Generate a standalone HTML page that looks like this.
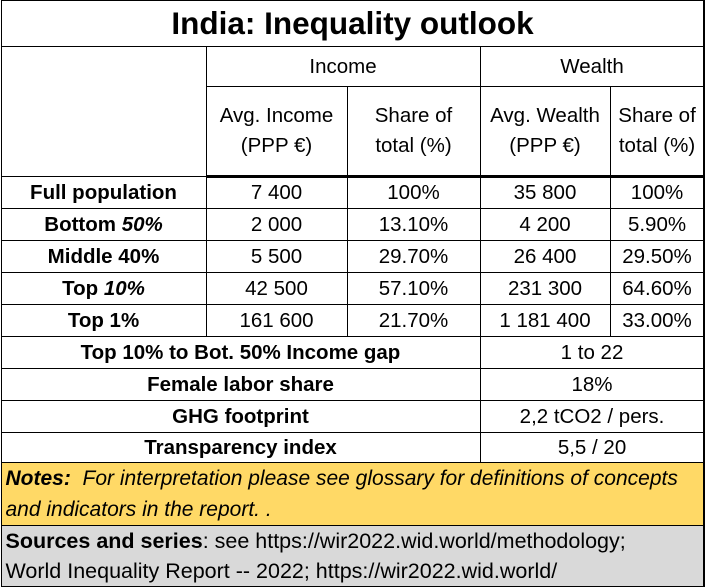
<!DOCTYPE html>
<html><head><meta charset="utf-8"><style>
html,body{margin:0;padding:0;background:#fff;}
body{width:705px;height:587px;overflow:hidden;font-family:"Liberation Sans",sans-serif;color:#000;position:relative;}
table{border-collapse:collapse;table-layout:fixed;width:703px;margin-left:0.5px;}
td{border:1.5px solid #000;text-align:center;padding:0;font-size:20.5px;white-space:nowrap;overflow:hidden;}
.b{font-weight:bold;}
.t{font-size:31.5px;font-weight:bold;}
.hd{line-height:30px;font-size:20.5px;}
.note{background:#FFD966;text-align:left;font-style:italic;font-size:21px;line-height:31px;padding-left:4px;}
.src{background:#D9D9D9;text-align:left;font-size:21.5px;line-height:30px;padding-left:4px;}
.thick td{border-bottom:3px solid #000;}
.rb{position:absolute;left:703px;top:0;width:2px;height:587px;background:#000;}
</style></head><body>
<table>
<colgroup><col style="width:205px"><col style="width:141px"><col style="width:133px"><col style="width:130px"><col style="width:94px"></colgroup>
<tr style="height:46px"><td colspan="5" class="t">India: Inequality outlook</td></tr>
<tr style="height:40px"><td rowspan="2"></td><td colspan="2">Income</td><td colspan="2">Wealth</td></tr>
<tr style="height:90px" class="thick"><td class="hd">Avg. Income<br>(PPP €)</td><td class="hd">Share of<br>total (%)</td><td class="hd">Avg. Wealth<br>(PPP €)</td><td class="hd">Share of<br>total (%)</td></tr>
<tr style="height:32px"><td class="b">Full population</td><td>7 400</td><td>100%</td><td>35 800</td><td>100%</td></tr>
<tr style="height:32px"><td class="b">Bottom <i>50%</i></td><td>2 000</td><td>13.10%</td><td>4 200</td><td>5.90%</td></tr>
<tr style="height:32px"><td class="b">Middle 40%</td><td>5 500</td><td>29.70%</td><td>26 400</td><td>29.50%</td></tr>
<tr style="height:32px"><td class="b">Top <i>10%</i></td><td>42 500</td><td>57.10%</td><td>231 300</td><td>64.60%</td></tr>
<tr style="height:32px"><td class="b">Top 1%</td><td>161 600</td><td>21.70%</td><td>1 181 400</td><td>33.00%</td></tr>
<tr style="height:32px"><td colspan="3" class="b">Top 10% to Bot. 50% Income gap</td><td colspan="2">1 to 22</td></tr>
<tr style="height:32px"><td colspan="3" class="b">Female labor share</td><td colspan="2">18%</td></tr>
<tr style="height:32px"><td colspan="3" class="b">GHG footprint</td><td colspan="2">2,2 tCO2 / pers.</td></tr>
<tr style="height:30px"><td colspan="3" class="b">Transparency index</td><td colspan="2">5,5 / 20</td></tr>
<tr style="height:63px"><td colspan="5" class="note"><b>Notes:</b>&nbsp; For interpretation please see glossary for definitions of concepts<br>and indicators in the report. .</td></tr>
<tr style="height:61px"><td colspan="5" class="src"><b>Sources and series</b>: see https://wir2022.wid.world/methodology;<br>World Inequality Report -- 2022; https://wir2022.wid.world/</td></tr>
</table>
<div class="rb"></div>
</body></html>
